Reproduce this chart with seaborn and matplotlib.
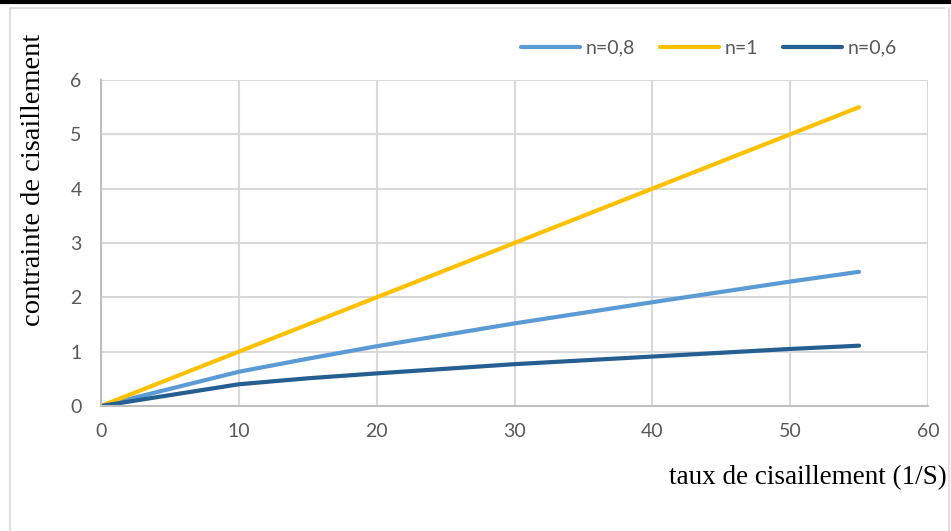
import matplotlib
matplotlib.use("Agg")
import matplotlib.pyplot as plt
from matplotlib.lines import Line2D
import seaborn as sns
import pandas as pd

# ---- data ----
shear_rate = [0, 10, 15, 20, 30, 40, 50, 55]
stress_n08 = [0, 0.63, 0.87, 1.10, 1.52, 1.91, 2.29, 2.47]
stress_n1 = [0, 1.0, 1.5, 2.0, 3.0, 4.0, 5.0, 5.5]
stress_n06 = [0, 0.40, 0.51, 0.60, 0.77, 0.91, 1.05, 1.11]
series_names = ["n=0,8", "n=1", "n=0,6"]
x_ticks = [0, 10, 20, 30, 40, 50, 60]
y_ticks = [0, 1, 2, 3, 4, 5, 6]
x_label = "taux de cisaillement (1/S)"
y_label = "contrainte de cisaillement"

colors = ["#5B9BD5", "#FFC000", "#255E91"]

rows = []
for name, vals in zip(series_names, [stress_n08, stress_n1, stress_n06]):
    for x, y in zip(shear_rate, vals):
        rows.append({"x": x, "y": y, "serie": name})
df = pd.DataFrame(rows)

sns.set_theme(style="white")
plt.rcParams["font.family"] = ["Lato", "DejaVu Sans"]

W, H = 951, 531
fig = plt.figure(figsize=(W / 100, H / 100), dpi=100)
ax = fig.add_axes([101 / W, 1 - 406 / H, (928 - 101) / W, (406 - 80) / H])

sns.lineplot(data=df, x="x", y="y", hue="serie", hue_order=series_names,
             palette=colors, linewidth=3, ax=ax, legend=False,
             solid_capstyle="round", estimator=None, sort=False)

ax.set_xlim(0, 60)
ax.set_ylim(0, 6)
ax.set_xticks(x_ticks)
ax.set_yticks(y_ticks)
ax.grid(True, color="#d9d9d9", linewidth=1.5)
ax.set_axisbelow(True)
for s in ["top", "right"]:
    ax.spines[s].set_visible(False)
for s in ["left", "bottom"]:
    ax.spines[s].set_color("#bfbfbf")
    ax.spines[s].set_linewidth(1.5)
ax.tick_params(axis="both", length=0, labelsize=14, colors="#595959", pad=12)
ax.tick_params(axis="y", pad=14)
ax.set_xlabel("")
ax.set_ylabel("")

fig.text(947 / W, 1 - 478 / H, x_label, ha="right", va="center",
         fontsize=19.5, family=["Liberation Serif", "DejaVu Serif"], color="black")
fig.text(34 / W, 1 - 180 / H, y_label, ha="center", va="center", rotation=90,
         fontsize=20.5, family=["Liberation Serif", "DejaVu Serif"], color="black")

handles = [Line2D([0], [0], color=c, lw=3, solid_capstyle="round") for c in colors]
fig.legend(handles, series_names, loc="center", bbox_to_anchor=(709 / W, 1 - 48 / H),
           ncol=3, frameon=False, fontsize=14, handlelength=3.0, handletextpad=0.3,
           columnspacing=1.3, labelcolor="#595959")

# outer frame decorations
fig.add_artist(Line2D([0, 1], [1 - 1.5 / H, 1 - 1.5 / H], color="black", lw=3, transform=fig.transFigure))
fig.add_artist(Line2D([10 / W, 945 / W], [1 - 8 / H, 1 - 8 / H], color="#d9d9d9", lw=1.2, transform=fig.transFigure))
fig.add_artist(Line2D([10 / W, 10 / W], [1 - 8 / H, 0], color="#d9d9d9", lw=1.2, transform=fig.transFigure))
fig.add_artist(Line2D([949 / W, 949 / W], [1 - 8 / H, 0], color="#d9d9d9", lw=1.2, transform=fig.transFigure))

fig.savefig("out.png", dpi=100)
